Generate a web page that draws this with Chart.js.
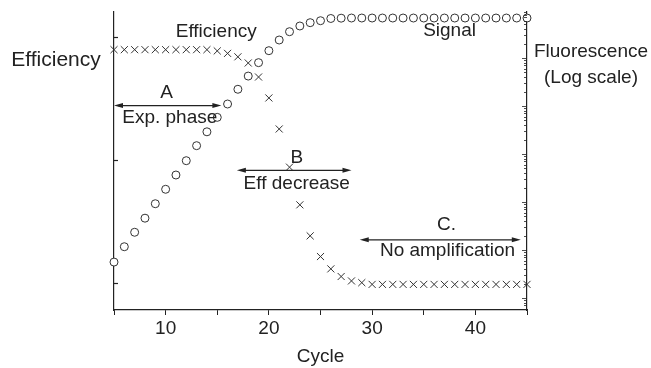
<!DOCTYPE html>
<html>
<head>
<meta charset="utf-8">
<script src="https://cdn.jsdelivr.net/npm/chart.js@4.4.1/dist/chart.umd.min.js"></script>
<style>
  html, body { margin: 0; padding: 0; background: #fff; }
  #wrap { width: 651px; height: 368px; }
</style>
</head>
<body>
<div id="wrap"><canvas id="pcrChart"></canvas></div>
<script>
// PCR cycle data
var cycles = [5, 6, 7, 8, 9, 10, 11, 12, 13, 14, 15, 16, 17, 18, 19, 20, 21, 22, 23, 24, 25,
              26, 27, 28, 29, 30, 31, 32, 33, 34, 35, 36, 37, 38, 39, 40, 41, 42, 43, 44, 45];

// fluorescence signal (right axis, log scale)
var signal = [5.6, 11.7, 23.4, 46, 92, 184, 365, 725, 1490, 2900, 5800, 11000, 22300, 42000, 80000,
              142000, 237000, 353000, 464000, 544000, 598000,
              665000, 675000, 680000, 680000, 680000, 680000, 680000, 680000, 680000, 680000,
              680000, 680000, 680000, 680000, 680000, 680000, 680000, 680000, 680000, 680000];

// amplification efficiency (left axis)
var efficiency = [0.947, 0.947, 0.947, 0.947, 0.947, 0.947, 0.947, 0.947, 0.947, 0.947,
                  0.942, 0.932, 0.918, 0.893, 0.836, 0.751, 0.625, 0.47, 0.317, 0.191,
                  0.107, 0.057, 0.026, 0.008, 0.001,
                  -0.006, -0.006, -0.006, -0.006, -0.006, -0.006, -0.006, -0.006,
                  -0.006, -0.006, -0.006, -0.006, -0.006, -0.006, -0.006, -0.006];

var xTickLabels = [10, 20, 30, 40];
var effTicks = [0, 0.5, 1];

var ink = '#222';
var fontFamily = '"Liberation Sans", Arial, Helvetica, sans-serif';

// labels, arrows and inward ticks
var decorPlugin = {
    id: 'decor',
    afterDraw: function (chart) {
        var ctx = chart.ctx;
        var xs = chart.scales.x;
        var ys = chart.scales.yEff;
        var yl = chart.scales.ySig;
        var area = chart.chartArea;

        ctx.save();
        ctx.strokeStyle = ink;
        ctx.fillStyle = ink;
        ctx.lineWidth = 1.2;

        // left axis ticks (inward)
        effTicks.forEach(function (v) {
            var py = Math.round(ys.getPixelForValue(v)) + 0.5;
            ctx.beginPath();
            ctx.moveTo(area.left, py);
            ctx.lineTo(area.left + 4, py);
            ctx.stroke();
        });

        // right axis log ticks (inward)
        ctx.lineWidth = 0.8;
        for (var e = -1; e <= 6; e++) {
            for (var m = 1; m <= 9; m++) {
                var v = m * Math.pow(10, e);
                if (v < yl.min || v > yl.max) continue;
                var py = Math.round(yl.getPixelForValue(v)) + 0.5;
                var len = m === 1 ? 5 : 3;
                ctx.beginPath();
                ctx.moveTo(area.right, py);
                ctx.lineTo(area.right - len, py);
                ctx.stroke();
            }
        }

        // text labels
        ctx.font = '19px ' + fontFamily;
        ctx.textAlign = 'center';
        ctx.textBaseline = 'middle';
        var texts = [
            ['Efficiency', 14.9, 1.02],
            ['Signal', 37.5, 1.024],
            ['A', 10.1, 0.772],
            ['Exp. phase', 10.4, 0.67],
            ['B', 22.7, 0.508],
            ['Eff decrease', 22.7, 0.402],
            ['C.', 37.2, 0.236],
            ['No amplification', 37.3, 0.13]
        ];
        texts.forEach(function (t) {
            ctx.fillText(t[0], xs.getPixelForValue(t[1]), ys.getPixelForValue(t[2]));
        });

        // axis captions, horizontal
        ctx.fillText('Fluorescence', area.right + 64, 52);
        ctx.fillText('(Log scale)', area.right + 64, 78);
        ctx.font = '21px ' + fontFamily;
        ctx.fillText('Efficiency', area.left - 58, 60);

        // double arrows
        ctx.lineWidth = 1.3;
        var arrows = [
            [5, 15.4, 0.72],
            [16.9, 28.0, 0.457],
            [28.8, 44.4, 0.175]
        ];
        arrows.forEach(function (a) {
            var x1 = xs.getPixelForValue(a[0]);
            var x2 = xs.getPixelForValue(a[1]);
            var py = ys.getPixelForValue(a[2]);
            ctx.beginPath();
            ctx.moveTo(x1 + 4, py);
            ctx.lineTo(x2 - 4, py);
            ctx.stroke();
            ctx.beginPath();
            ctx.moveTo(x1, py);
            ctx.lineTo(x1 + 9, py - 2.5);
            ctx.lineTo(x1 + 9, py + 2.5);
            ctx.closePath();
            ctx.fill();
            ctx.beginPath();
            ctx.moveTo(x2, py);
            ctx.lineTo(x2 - 9, py - 2.5);
            ctx.lineTo(x2 - 9, py + 2.5);
            ctx.closePath();
            ctx.fill();
        });
        ctx.restore();
    }
};

document.addEventListener('DOMContentLoaded', function () {
    var ctx = document.getElementById('pcrChart').getContext('2d');
    var pcrChart = new Chart(ctx, {
        type: 'line',
        data: {
            datasets: [{
                label: 'Efficiency',
                data: cycles.map(function (c, i) { return { x: c, y: efficiency[i] }; }),
                yAxisID: 'yEff',
                showLine: false,
                pointStyle: 'crossRot',
                pointRadius: 5,
                pointBorderWidth: 1,
                pointBorderColor: '#333',
                pointBackgroundColor: '#333',
                clip: false
            }, {
                label: 'Signal',
                data: cycles.map(function (c, i) { return { x: c, y: signal[i] }; }),
                yAxisID: 'ySig',
                showLine: false,
                pointStyle: 'circle',
                pointRadius: 4,
                pointBorderWidth: 1,
                pointBorderColor: '#333',
                pointBackgroundColor: '#fff',
                clip: false
            }]
        },
        options: {
            responsive: true,
            maintainAspectRatio: false,
            animation: false,
            events: [],
            layout: { padding: { left: 0, right: 0, top: 12, bottom: 0 } },
            plugins: {
                legend: { display: false },
                tooltip: { enabled: false }
            },
            scales: {
                x: {
                    type: 'linear',
                    min: 5,
                    max: 45,
                    afterFit: function (scale) { scale.height = 58; },
                    grid: { display: true, drawOnChartArea: false, drawTicks: true, tickLength: 5, color: ink, lineWidth: 1 },
                    border: { display: true, color: ink, width: 1.2 },
                    ticks: {
                        stepSize: 5,
                        autoSkip: false,
                        maxRotation: 0,
                        padding: 2,
                        color: ink,
                        font: { family: fontFamily, size: 19 },
                        callback: function (v) { return xTickLabels.indexOf(v) >= 0 ? String(v) : ''; }
                    },
                    title: {
                        display: true,
                        text: 'Cycle',
                        color: ink,
                        font: { family: fontFamily, size: 19 },
                        padding: { top: 0, bottom: 0 }
                    }
                },
                yEff: {
                    type: 'linear',
                    position: 'left',
                    min: -0.11,
                    max: 1.10,
                    afterFit: function (scale) { scale.width = 114; },
                    grid: { display: false },
                    border: { display: true, color: ink, width: 1.2 },
                    ticks: { display: false }
                },
                ySig: {
                    type: 'logarithmic',
                    position: 'right',
                    min: 0.5623,
                    max: 908000,
                    afterFit: function (scale) { scale.width = 124; },
                    grid: { display: false },
                    border: { display: true, color: ink, width: 1.2 },
                    ticks: { display: false }
                }
            }
        },
        plugins: [decorPlugin]
    });
});
</script>
</body>
</html>
